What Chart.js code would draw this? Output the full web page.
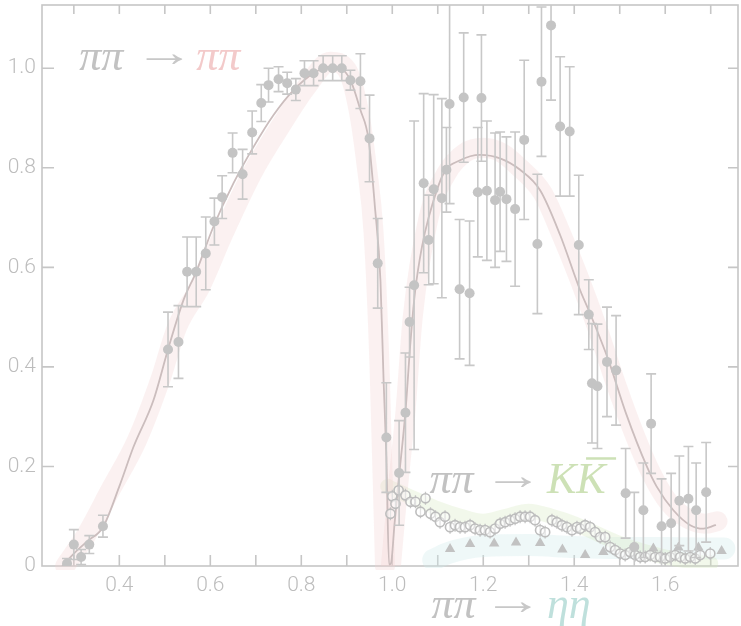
<!DOCTYPE html>
<html>
<head>
<meta charset="utf-8">
<script src="https://cdn.jsdelivr.net/npm/chart.js@4.4.0/dist/chart.umd.min.js"></script>
<style>
  html, body { margin: 0; padding: 0; background: #fff; }
  #wrap { width: 741px; height: 626px; position: relative; }
</style>
</head>
<body>
<div id="wrap"><canvas id="chartCanvas"></canvas></div>
<script>
// pi pi -> pi pi measurements (filled circles) with errors
const pipiX = [0.285,0.300,0.316,0.334,0.364,0.507,0.530,0.549,0.569,0.590,0.609,0.626,0.649,0.671,0.692,0.712,0.728,0.750,0.769,0.788,0.807,0.827,0.848,0.869,0.889,0.908,0.930,0.950,0.968,0.987,1.015,1.029,1.038,1.048,1.069,1.080,1.091,1.109,1.119,1.126,1.148,1.157,1.170,1.188,1.196,1.208,1.226,1.237,1.251,1.270,1.290,1.319,1.328,1.349,1.369,1.390,1.410,1.432,1.439,1.451,1.472,1.492,1.513,1.532,1.552,1.569,1.592,1.613,1.631,1.651,1.668,1.690];
const pipiY = [0.005,0.043,0.018,0.043,0.080,0.435,0.450,0.591,0.591,0.628,0.692,0.741,0.830,0.787,0.871,0.930,0.966,0.978,0.970,0.957,0.990,0.990,1.000,1.000,1.000,0.976,0.974,0.859,0.608,0.258,0.187,0.308,0.490,0.564,0.769,0.655,0.757,0.739,0.796,0.928,0.556,0.941,0.548,0.751,0.940,0.754,0.735,0.752,0.737,0.717,0.856,0.647,0.973,1.086,0.883,0.873,0.645,0.505,0.367,0.361,0.410,0.393,0.146,0.038,0.112,0.286,0.080,0.086,0.131,0.135,0.112,0.148];
const pipiErr = [0.010,0.030,0.015,0.018,0.022,0.075,0.073,0.070,0.070,0.073,0.047,0.043,0.040,0.050,0.043,0.037,0.034,0.025,0.022,0.022,0.025,0.025,0.025,0.025,0.025,0.020,0.055,0.087,0.090,0.110,0.105,0.120,0.070,0.330,0.180,0.090,0.190,0.200,0.085,0.200,0.140,0.130,0.145,0.130,0.127,0.140,0.135,0.120,0.125,0.155,0.160,0.140,0.150,0.150,0.140,0.130,0.140,0.070,0.120,0.125,0.110,0.110,0.090,0.110,0.095,0.100,0.095,0.100,0.090,0.105,0.095,0.100];

// pi pi -> K Kbar (open circles)
const kkX = [0.996,1.000,1.007,1.014,1.029,1.040,1.051,1.062,1.073,1.084,1.095,1.105,1.116,1.127,1.138,1.149,1.160,1.171,1.182,1.193,1.204,1.215,1.226,1.237,1.248,1.259,1.270,1.281,1.292,1.303,1.314,1.325,1.336,1.351,1.362,1.373,1.384,1.395,1.406,1.413,1.424,1.435,1.446,1.457,1.468,1.479,1.490,1.501,1.512,1.523,1.534,1.545,1.556,1.567,1.578,1.589,1.600,1.611,1.622,1.633,1.644,1.655,1.666,1.677,1.699];
const kkY = [0.105,0.140,0.125,0.152,0.142,0.129,0.129,0.109,0.136,0.105,0.099,0.088,0.099,0.078,0.082,0.078,0.078,0.082,0.075,0.072,0.072,0.068,0.075,0.085,0.088,0.092,0.095,0.099,0.099,0.099,0.092,0.072,0.068,0.092,0.088,0.082,0.078,0.072,0.078,0.075,0.082,0.078,0.068,0.058,0.058,0.038,0.032,0.025,0.022,0.028,0.022,0.018,0.018,0.022,0.018,0.018,0.015,0.018,0.022,0.018,0.015,0.018,0.015,0.022,0.025];
const kkErr = kkX.map(() => 0.013);

// pi pi -> eta eta (triangles)
const etaX = [1.127,1.171,1.224,1.272,1.325,1.374,1.424,1.464,1.530,1.574,1.629,1.673,1.724];
const etaY = [0.034,0.044,0.045,0.047,0.046,0.033,0.022,0.028,0.035,0.035,0.037,0.037,0.030];

// fitted curve for pi pi -> pi pi
const curveX = [0.275,0.300,0.330,0.364,0.400,0.431,0.475,0.507,0.541,0.569,0.607,0.651,0.695,0.739,0.783,0.827,0.864,0.886,0.908,0.930,0.948,0.962,0.974,0.981,0.987,0.993,0.997,1.005,1.014,1.029,1.040,1.050,1.065,1.080,1.113,1.149,1.193,1.237,1.281,1.325,1.369,1.413,1.435,1.475,1.514,1.560,1.581,1.618,1.655,1.684,1.710];
const curveY = [0.000,0.025,0.050,0.078,0.160,0.239,0.333,0.435,0.534,0.591,0.682,0.769,0.842,0.906,0.956,0.990,1.003,1.000,0.976,0.916,0.856,0.720,0.574,0.370,0.220,0.003,0.005,0.085,0.172,0.310,0.450,0.550,0.640,0.700,0.789,0.815,0.826,0.819,0.796,0.755,0.665,0.554,0.507,0.414,0.306,0.199,0.160,0.112,0.082,0.075,0.082];

// highlight bands (centre lines)
const bandAX = [0.281,0.329,0.380,0.439,0.490,0.527,0.578,0.629,0.692,0.754,0.812,0.864,0.900,0.926,0.944,0.959,0.972,0.984];
const bandAY = [0.000,0.065,0.152,0.253,0.374,0.480,0.561,0.668,0.789,0.883,0.963,1.013,0.997,0.916,0.802,0.668,0.400,0.000];
const bandBX = [0.997,1.014,1.029,1.045,1.080,1.120,1.160,1.200,1.240,1.280,1.330,1.370,1.410,1.450,1.490,1.530,1.570,1.610,1.650,1.690,1.715];
const bandBY = [0.000,0.172,0.310,0.500,0.700,0.790,0.830,0.840,0.830,0.800,0.750,0.670,0.580,0.480,0.370,0.270,0.185,0.125,0.095,0.085,0.090];
const kkBandX = [0.990,1.000,1.050,1.100,1.150,1.200,1.250,1.300,1.350,1.400,1.450,1.500,1.550,1.600,1.650,1.700];
const kkBandY = [0.160,0.155,0.135,0.115,0.100,0.090,0.100,0.110,0.100,0.085,0.065,0.045,0.030,0.018,0.010,0.005];
const etaBandX = [1.090,1.120,1.160,1.200,1.300,1.400,1.500,1.600,1.700,1.730];
const etaBandY = [0.012,0.025,0.035,0.040,0.042,0.038,0.036,0.036,0.035,0.035];

// axis ticks
const xMinorTicks = [0.3,0.4,0.5,0.6,0.7,0.8,0.9,1.0,1.1,1.2,1.3,1.4,1.5,1.6,1.7];
const xLabelVals = [0.4,0.6,0.8,1.0,1.2,1.4,1.6];
const yLabelVals = [0,0.2,0.4,0.6,0.8,1.0];

const grey = '#c4c4c4';
const axisGrey = '#c6c6c6';

const toPts = (xs, ys) => xs.map((x, i) => ({ x: x, y: ys[i] }));

// frame box and inward ticks
const framePlugin = {
    id: 'frame',
    beforeDatasetsDraw(chart) {
        const { ctx, chartArea: a, scales: { x, y } } = chart;
        ctx.save();
        ctx.strokeStyle = axisGrey;
        ctx.lineWidth = 1.6;
        ctx.strokeRect(a.left, a.top, a.right - a.left, a.bottom - a.top);
        ctx.beginPath();
        xMinorTicks.forEach(v => {
            const px = x.getPixelForValue(v);
            ctx.moveTo(px, a.bottom); ctx.lineTo(px, a.bottom - 11);
            ctx.moveTo(px, a.top); ctx.lineTo(px, a.top + 9);
        });
        yLabelVals.forEach(v => {
            if (v === 0) return;
            const py = y.getPixelForValue(v);
            ctx.moveTo(a.left, py); ctx.lineTo(a.left + 12, py);
            ctx.moveTo(a.right, py); ctx.lineTo(a.right - 10, py);
        });
        ctx.stroke();
        ctx.restore();
    }
};

// vertical error bars for datasets that carry an "errors" array
const errorBarPlugin = {
    id: 'errorBars',
    beforeDatasetDraw(chart, args) {
        const ds = chart.data.datasets[args.index];
        if (!ds.errors) return;
        const { ctx, chartArea: a, scales: { x, y } } = chart;
        ctx.save();
        ctx.strokeStyle = ds.errorColor || grey;
        ctx.lineWidth = ds.errorWidth || 1.6;
        ctx.beginPath();
        ds.data.forEach((p, i) => {
            const e = ds.errors[i];
            const px = x.getPixelForValue(p.x);
            let top = y.getPixelForValue(p.y + e);
            let bot = y.getPixelForValue(p.y - e);
            const topClip = top < a.top, botClip = bot > a.bottom;
            top = Math.max(top, a.top);
            bot = Math.min(bot, a.bottom);
            ctx.moveTo(px, top); ctx.lineTo(px, bot);
            const c = ds.capHalf || 0;
            if (c > 0) {
                if (!topClip) { ctx.moveTo(px - c, top); ctx.lineTo(px + c, top); }
                if (!botClip) { ctx.moveTo(px - c, bot); ctx.lineTo(px + c, bot); }
            }
        });
        ctx.stroke();
        ctx.restore();
    }
};

// reaction labels
const labelPlugin = {
    id: 'reactionLabels',
    afterDraw(chart) {
        const { ctx, scales: { x, y } } = chart;
        const piFont = 'italic 44px "Liberation Serif"';
        const arrowFont = '40px "Liberation Serif"';
        const put = (txt, font, color, vx, vy) => {
            ctx.font = font;
            ctx.fillStyle = color;
            ctx.fillText(txt, x.getPixelForValue(vx), y.getPixelForValue(vy));
        };
        // arrow glyph stretched to the long thin arrow of the original
        const arrow = (vx, vy) => {
            ctx.save();
            ctx.font = arrowFont;
            ctx.fillStyle = '#c8c8c8';
            const m = ctx.measureText('→');
            const ink = (m.actualBoundingBoxRight + m.actualBoundingBoxLeft) || m.width;
            const sx = 36 / ink;
            ctx.translate(x.getPixelForValue(vx), y.getPixelForValue(vy));
            ctx.scale(sx, 1);
            ctx.fillText('→', m.actualBoundingBoxLeft || 0, 0);
            ctx.restore();
        };
        ctx.save();
        ctx.textBaseline = 'alphabetic';
        ctx.textAlign = 'left';
        // pi pi -> pi pi
        put('ππ', piFont, '#c2c2c2', 0.312, 0.997);
        arrow(0.459, 1.005);
        put('ππ', piFont, '#f3caca', 0.569, 0.997);
        // pi pi -> K Kbar
        put('ππ', piFont, '#c2c2c2', 1.082, 0.146);
        arrow(1.226, 0.154);
        put('KK', piFont, '#cde1b6', 1.340, 0.146);
        ctx.strokeStyle = '#cde1b6';
        ctx.lineWidth = 2.5;
        ctx.beginPath();
        ctx.moveTo(x.getPixelForValue(1.426), y.getPixelForValue(0.216));
        ctx.lineTo(x.getPixelForValue(1.492), y.getPixelForValue(0.216));
        ctx.stroke();
        // pi pi -> eta eta
        put('ππ', piFont, '#c2c2c2', 1.086, -0.105);
        arrow(1.225, -0.097);
        put('ηη', piFont, '#bfe0dc', 1.340, -0.105);
        ctx.restore();
    }
};

const bandStyle = (color, width, clipBottom) => ({
    type: 'line',
    showLine: true,
    borderColor: color,
    borderWidth: width,
    borderCapStyle: 'round',
    borderJoinStyle: 'round',
    cubicInterpolationMode: 'monotone',
    pointRadius: 0,
    fill: false,
    clip: { left: 10, top: 0, right: 10, bottom: clipBottom }
});

const chart = new Chart(document.getElementById('chartCanvas').getContext('2d'), {
    type: 'scatter',
    data: {
        datasets: [
            {
                label: 'pipi',
                data: toPts(pipiX, pipiY),
                errors: pipiErr,
                errorColor: '#c8c8c8',
                capHalf: 5,
                pointStyle: 'circle',
                pointRadius: 5,
                backgroundColor: '#c4c4c4',
                borderWidth: 0,
                order: 0
            },
            {
                label: 'KK',
                data: toPts(kkX, kkY),
                errors: kkErr,
                errorColor: '#c4c4c4',
                errorWidth: 1.3,
                capHalf: 0,
                pointStyle: 'circle',
                pointRadius: 4.6,
                backgroundColor: 'rgba(255,255,255,0.5)',
                borderColor: '#bdbdbd',
                borderWidth: 1.6,
                order: 1
            },
            {
                label: 'etaeta',
                data: toPts(etaX, etaY),
                pointStyle: 'triangle',
                pointRadius: 6,
                backgroundColor: '#c2c2c2',
                borderWidth: 0,
                order: 2
            },
            Object.assign(bandStyle('#cbbdbd', 1.8, 0), { label: 'fit', data: toPts(curveX, curveY), order: 3 }),
            Object.assign(bandStyle('rgba(242,208,208,0.3)', 20, 4), { label: 'bandA', data: toPts(bandAX, bandAY), order: 4 }),
            Object.assign(bandStyle('rgba(242,208,208,0.3)', 20, 0), { label: 'bandB', data: toPts(bandBX, bandBY), order: 5 }),
            Object.assign(bandStyle('rgba(212,232,190,0.3)', 15, 2), { label: 'kkBand', data: toPts(kkBandX, kkBandY), order: 6 }),
            Object.assign(bandStyle('rgba(205,232,232,0.32)', 22, 2), { label: 'etaBand', data: toPts(etaBandX, etaBandY), order: 7 })
        ]
    },
    options: {
        responsive: true,
        maintainAspectRatio: false,
        animation: false,
        devicePixelRatio: 1,
        layout: { autoPadding: false, padding: { left: 0, right: 3, top: 5, bottom: 0 } },
        plugins: { legend: { display: false }, tooltip: { enabled: false } },
        scales: {
            x: {
                type: 'linear',
                min: 0.23,
                max: 1.76,
                grid: { display: false, drawTicks: false },
                border: { display: false },
                afterBuildTicks: s => { s.ticks = xLabelVals.map(v => ({ value: v })); },
                afterFit: s => { s.height = 60; s.paddingLeft = 0; s.paddingRight = 0; },
                ticks: {
                    autoSkip: false,
                    maxRotation: 0,
                    padding: 7,
                    color: '#bdbdbd',
                    font: { family: 'Roboto', size: 21, weight: 300 },
                    callback: v => v.toFixed(1)
                }
            },
            y: {
                type: 'linear',
                min: 0,
                max: 1.127,
                grid: { display: false, drawTicks: false },
                border: { display: false },
                afterBuildTicks: s => { s.ticks = yLabelVals.map(v => ({ value: v })); },
                afterFit: s => { s.width = 42; s.paddingTop = 0; s.paddingBottom = 0; },
                ticks: {
                    padding: 6,
                    color: '#bdbdbd',
                    font: { family: 'Roboto', size: 21, weight: 300 },
                    callback: v => v === 0 ? '0' : v.toFixed(1)
                }
            }
        }
    },
    plugins: [framePlugin, errorBarPlugin, labelPlugin]
});
</script>
</body>
</html>
